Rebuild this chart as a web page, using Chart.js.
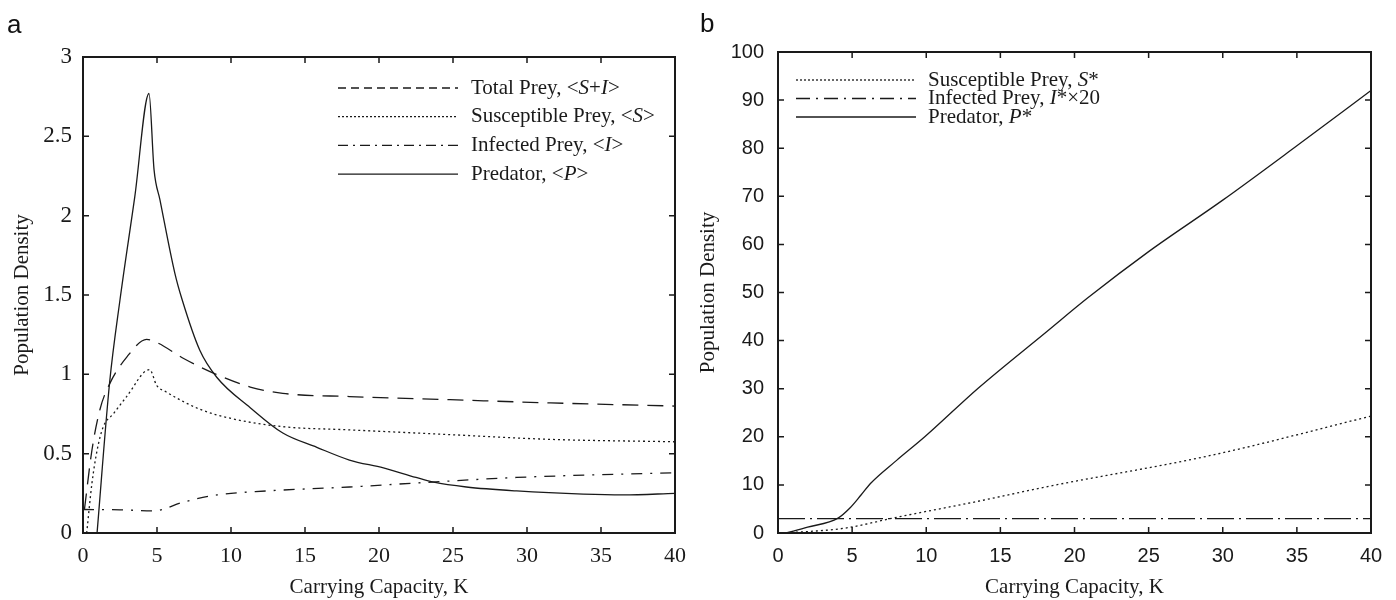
<!DOCTYPE html>
<html>
<head>
<meta charset="utf-8">
<script src="https://cdn.jsdelivr.net/npm/chart.js@4"></script>
<style>
  body { margin: 0; background: #fff; }
  .panel { position: absolute; top: 0; height: 600px; }
  .tag { position: absolute; font-family: "Liberation Sans", Arial, sans-serif; font-size: 26px; line-height: 30px; color: #111; }
</style>
</head>
<body>
<div class="panel" style="left:0;width:696px"><canvas id="chartA"></canvas></div>
<div class="panel" style="left:696px;width:700px"><canvas id="chartB"></canvas></div>
<div class="tag" style="left:7px;top:9px">a</div>
<div class="tag" style="left:700px;top:8px">b</div>
<script>
// ---- panel a : time averages vs K ----
var totalK = [0.1, 0.6, 1.15, 1.8, 2.97, 4.3, 5, 6.8, 9, 11.3, 13.5, 18, 24.8, 31.6, 40]
var totalV = [0.15, 0.52, 0.78, 0.94, 1.11, 1.22, 1.2, 1.1, 1.0, 0.92, 0.88, 0.86, 0.84, 0.82, 0.80]
var suscK = [0.25, 0.6, 0.95, 1.37, 2.04, 2.95, 4.5, 4.98, 5.6, 7.9, 10.1, 13.5, 18, 24.8, 31.6, 40]
var suscV = [0, 0.31, 0.52, 0.67, 0.75, 0.86, 1.03, 0.93, 0.89, 0.78, 0.72, 0.67, 0.65, 0.62, 0.59, 0.575]
var infK = [0, 2.5, 4.8, 6.8, 9.05, 12.4, 18, 22.5, 29.3, 40]
var infV = [0.148, 0.146, 0.14, 0.195, 0.24, 0.265, 0.29, 0.315, 0.35, 0.38]
var predK = [0.95, 1.8, 2.5, 3.5, 4.46, 4.8, 5.2, 6.2, 6.7, 7.9, 9.05, 11.3, 13.5, 15.8, 18, 20.3, 22.5, 23.7, 25.9, 29.3, 33.8, 36.5, 40]
var predV = [0, 0.95, 1.47, 2.12, 2.77, 2.29, 2.1, 1.64, 1.47, 1.15, 0.98, 0.79, 0.63, 0.54, 0.46, 0.41, 0.35, 0.32, 0.29, 0.265, 0.245, 0.24, 0.25]
var labelsA = ["Total Prey, <_S_+_I_>", "Susceptible Prey, <_S_>", "Infected Prey, <_I_>", "Predator, <_P_>"]

// ---- panel b : equilibria vs K ----
var suscBK = [0.2, 2, 4.5, 7.9, 13.5, 18.1, 29.3, 40]
var suscBV = [0, 0.3, 1.0, 3.2, 6.6, 9.6, 16.2, 24.3]
var infBK = [0, 10, 20, 30, 40]
var infBV = [3.0, 3.0, 3.0, 3.0, 3.0]
var predBK = [0.55, 2, 4.05, 4.85, 5.6, 6.27, 8, 9.9, 13.5, 18.1, 20.9, 25, 30, 35, 40]
var predBV = [0, 1.2, 3.1, 5.2, 7.9, 10.4, 15.1, 20, 30.1, 41.8, 48.9, 58.5, 69.2, 80.5, 92]
var labelsB = ["Susceptible Prey, _S_*", "Infected Prey, _I_*×20", "Predator, _P_*"]

var INK = '#1a1a1a'
var SERIF = '"Liberation Serif", "Times New Roman", serif'
var SANS = '"Liberation Sans", Arial, sans-serif'

function pts(xs, ys) {
    var out = []
    for (let i = 0; i < xs.length; i++) out.push({ x: xs[i], y: ys[i] })
    return out
}

function serie(xs, ys, dash) {
    return {
        data: pts(xs, ys),
        borderColor: INK,
        borderWidth: 1.3,
        borderDash: dash,
        pointRadius: 0,
        cubicInterpolationMode: 'monotone',
        fill: false
    }
}

// box, inward ticks on all sides, and the inset legend
const moldura = {
    id: 'moldura',
    afterDraw(chart, args, opts) {
        const c = chart.ctx
        const a = chart.chartArea
        const sx = chart.scales.x, sy = chart.scales.y
        c.save()
        c.strokeStyle = INK
        c.lineWidth = 2
        c.setLineDash([])
        c.strokeRect(a.left, a.top, a.right - a.left, a.bottom - a.top)
        c.lineWidth = 1.5
        c.beginPath()
        sx.ticks.forEach(function (t) {
            if (t.value <= sx.min || t.value >= sx.max) return
            let px = sx.getPixelForValue(t.value)
            c.moveTo(px, a.bottom); c.lineTo(px, a.bottom - 6)
            c.moveTo(px, a.top); c.lineTo(px, a.top + 6)
        })
        sy.ticks.forEach(function (t) {
            if (t.value <= sy.min || t.value >= sy.max) return
            let py = sy.getPixelForValue(t.value)
            c.moveTo(a.left, py); c.lineTo(a.left + 6, py)
            c.moveTo(a.right, py); c.lineTo(a.right - 6, py)
        })
        c.stroke()

        // legenda
        c.lineWidth = 1.3
        c.textBaseline = 'middle'
        c.fillStyle = INK
        opts.labels.forEach(function (txt, i) {
            let y = a.top + opts.y0 + i * opts.dy
            c.setLineDash(opts.dashes[i])
            c.beginPath()
            c.moveTo(a.left + opts.x0, y)
            c.lineTo(a.left + opts.x1, y)
            c.stroke()
            c.setLineDash([])
            let x = a.left + opts.tx
            let parts = txt.split('_')
            parts.forEach(function (p, j) {
                c.font = (j % 2 ? 'italic ' : '') + opts.size + 'px ' + SERIF
                c.fillText(p, x, y)
                x += c.measureText(p).width
            })
        })
        c.restore()
    }
}

function eixos(xmax, ymax, ystep, xFont, yFont, pad) {
    return {
        x: {
            type: 'linear', min: 0, max: xmax,
            grid: { display: false, drawTicks: false },
            border: { display: false },
            ticks: { stepSize: 5, padding: pad.xt, color: INK, font: xFont },
            title: { display: true, text: 'Carrying Capacity, K', color: INK,
                     font: { family: SERIF, size: 21 }, padding: { top: 0, bottom: 0 } },
            afterFit: function (s) { s.height = pad.bottom }
        },
        y: {
            min: 0, max: ymax,
            grid: { display: false, drawTicks: false },
            border: { display: false },
            ticks: { stepSize: ystep, padding: pad.yt, color: INK, font: yFont,
                     callback: function (v) { return String(v) } },
            title: { display: true, text: 'Population Density', color: INK,
                     font: { family: SERIF, size: 21 }, padding: { top: pad.yTitle, bottom: 0 } },
            afterFit: function (s) { s.width = pad.left }
        }
    }
}

new Chart(document.getElementById('chartA'), {
    type: 'line',
    data: {
        datasets: [
            serie(totalK, totalV, [16, 9]),
            serie(suscK, suscV, [2, 3]),
            serie(infK, infV, [11, 8, 2, 8]),
            serie(predK, predV, [])
        ]
    },
    options: {
        responsive: true,
        maintainAspectRatio: false,
        animation: false,
        layout: { padding: { top: 57, right: 21, left: 0, bottom: 0 } },
        scales: eixos(40, 3, 0.5, { family: SERIF, size: 22 }, { family: SERIF, size: 23 },
            { xt: 10, yt: 11, bottom: 67, left: 83, yTitle: 10 }),
        plugins: {
            legend: { display: false },
            tooltip: { enabled: false },
            moldura: {
                labels: labelsA, size: 21,
                dashes: [[8, 5], [2, 2], [10, 5, 2, 5], []],
                x0: 255, x1: 375, tx: 388, y0: 31, dy: 28.7
            }
        }
    },
    plugins: [moldura]
});

new Chart(document.getElementById('chartB'), {
    type: 'line',
    data: {
        datasets: [
            serie(suscBK, suscBV, [2, 3]),
            serie(infBK, infBV, [27, 5, 2, 5]),
            serie(predBK, predBV, [])
        ]
    },
    options: {
        responsive: true,
        maintainAspectRatio: false,
        animation: false,
        layout: { padding: { top: 52, right: 25, left: 0, bottom: 0 } },
        scales: eixos(40, 100, 10, { family: SANS, size: 20 }, { family: SANS, size: 20 },
            { xt: 11, yt: 14, bottom: 67, left: 82, yTitle: 0 }),
        plugins: {
            legend: { display: false },
            tooltip: { enabled: false },
            moldura: {
                labels: labelsB, size: 21,
                dashes: [[2, 2], [14, 6, 2, 6], []],
                x0: 18, x1: 138, tx: 150, y0: 28, dy: 18.5
            }
        }
    },
    plugins: [moldura]
});
</script>
</body>
</html>
